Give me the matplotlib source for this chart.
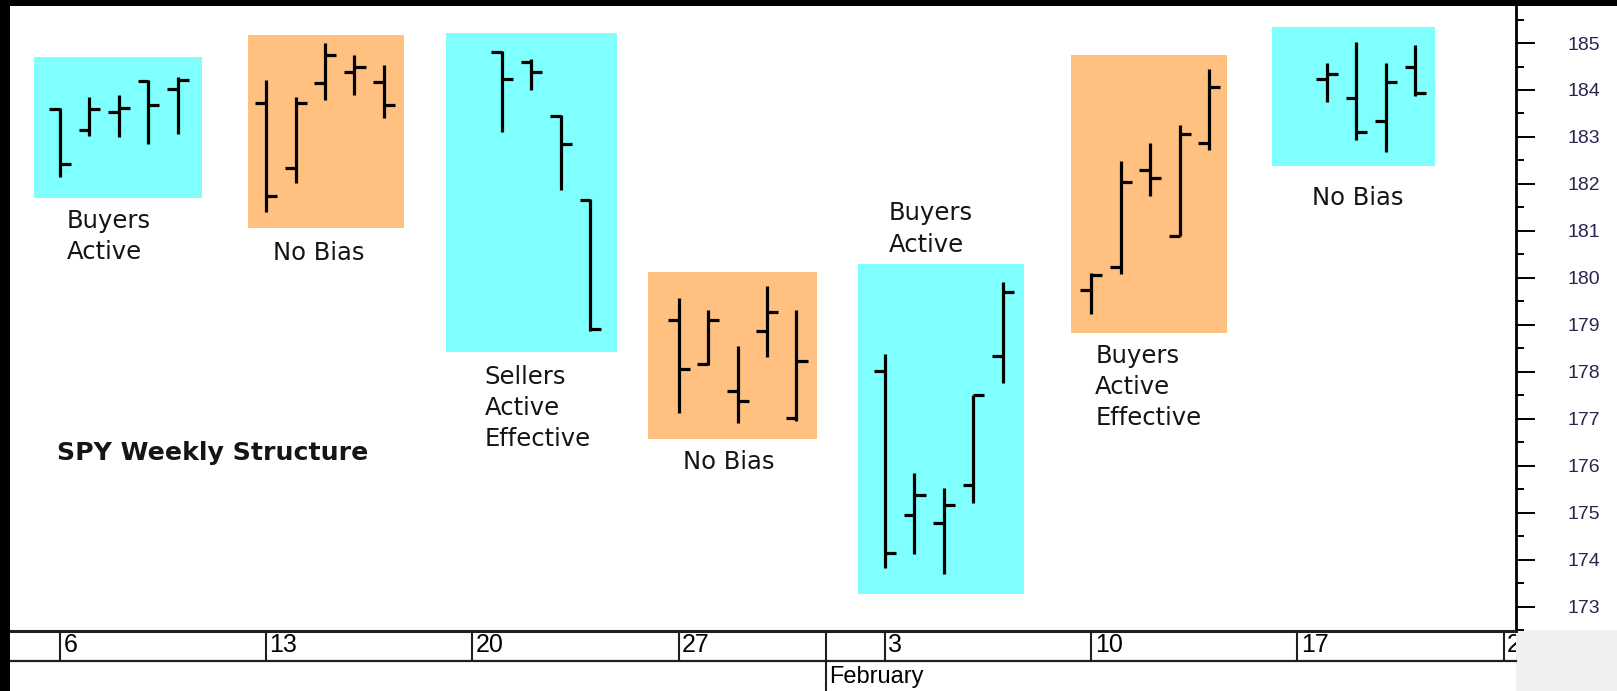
import matplotlib
matplotlib.use("Agg")
import matplotlib.pyplot as plt
from matplotlib.patches import Rectangle
import numpy as np
import pandas as pd

# ---------------- data ----------------
dates = ["2014-01-06", "2014-01-07", "2014-01-08", "2014-01-09", "2014-01-10",
         "2014-01-13", "2014-01-14", "2014-01-15", "2014-01-16", "2014-01-17",
         "2014-01-21", "2014-01-22", "2014-01-23", "2014-01-24",
         "2014-01-27", "2014-01-28", "2014-01-29", "2014-01-30", "2014-01-31",
         "2014-02-03", "2014-02-04", "2014-02-05", "2014-02-06", "2014-02-07",
         "2014-02-10", "2014-02-11", "2014-02-12", "2014-02-13", "2014-02-14",
         "2014-02-18", "2014-02-19", "2014-02-20", "2014-02-21"]
opens = [183.59, 183.14, 183.53, 184.20, 184.03,
         183.73, 182.33, 184.15, 184.38, 184.16,
         184.81, 184.60, 183.44, 181.66,
         179.11, 178.17, 177.58, 178.87, 177.02,
         178.01, 174.95, 174.78, 175.59, 178.34,
         179.75, 180.23, 182.29, 180.90, 182.88,
         184.24, 183.82, 183.35, 184.50]
highs = [183.62, 183.85, 183.89, 184.22, 184.27,
         184.22, 183.85, 185.00, 184.75, 184.53,
         184.82, 184.65, 183.46, 181.68,
         179.57, 179.31, 178.55, 179.83, 179.31,
         178.38, 175.84, 175.53, 177.51, 179.91,
         180.11, 182.49, 182.87, 183.25, 184.45,
         184.58, 185.03, 184.58, 184.95]
lows = [182.14, 183.02, 182.99, 182.84, 183.06,
        181.41, 182.01, 183.78, 183.90, 183.40,
        183.11, 184.00, 181.87, 178.87,
        177.12, 178.15, 176.91, 178.31, 176.96,
        173.82, 174.12, 173.69, 175.21, 177.76,
        179.24, 180.09, 181.75, 180.88, 182.72,
        183.74, 182.94, 182.68, 183.87]
closes = [182.42, 183.59, 183.62, 183.69, 184.21,
          181.74, 183.73, 184.75, 184.50, 183.69,
          184.24, 184.38, 182.84, 178.92,
          178.05, 179.11, 177.37, 179.28, 178.22,
          174.15, 175.38, 175.17, 177.50, 179.70,
          180.05, 182.05, 182.12, 183.06, 184.07,
          184.33, 183.11, 184.16, 183.94]

# highlight boxes: (start date, end date, low price, high price, colour)
box_start = ["2014-01-05", "2014-01-12", "2014-01-19", "2014-01-26", "2014-02-02", "2014-02-09", "2014-02-16"]
box_end = ["2014-01-10", "2014-01-17", "2014-01-24", "2014-01-31", "2014-02-07", "2014-02-14", "2014-02-21"]
box_start_off = [0.12, 0.39, 0.11, -0.03, 0.10, 0.31, 0.15]
box_end_off = [0.84, 0.69, 0.90, 0.69, 0.73, 0.60, 0.67]
box_low = [181.69, 181.06, 178.43, 176.56, 173.26, 178.82, 182.38]
box_high = [184.70, 185.18, 185.21, 180.12, 180.30, 184.74, 185.35]
box_colors = ["#80FFFF", "#FFC080", "#80FFFF", "#FFC080", "#80FFFF", "#FFC080", "#80FFFF"]

labels = ["Buyers\nActive", "No Bias", "Sellers\nActive\nEffective", "No Bias",
          "Buyers\nActive", "Buyers\nActive\nEffective", "No Bias"]
label_day = [6.24, 13.24, 20.42, 27.14, 34.14, 41.14, 48.49]
label_price = [180.87, 180.52, 177.22, 176.07, 181.04, 177.68, 181.70]

title_text = "SPY Weekly Structure"
week_starts = ["2014-01-06", "2014-01-13", "2014-01-20", "2014-01-27",
               "2014-02-03", "2014-02-10", "2014-02-17", "2014-02-24"]
month_start = "2014-02-01"
month_label = "February"
price_ticks = list(range(173, 186))

# ---------------- helpers ----------------
base = pd.Timestamp("2013-12-31")
def dnum(s):
    return (pd.Timestamp(s) - base).days

x = np.array([dnum(d) for d in dates], dtype=float)

W, H = 1617, 691
fig = plt.figure(figsize=(W / 100, H / 100), dpi=100)
fig.patch.set_facecolor("white")

L_PX, R_PX, T_PX, B_PX = 9.5, 1516, 5, 630
ax = fig.add_axes([L_PX / W, (H - B_PX) / H, (R_PX - L_PX) / W, (B_PX - T_PX) / H])
XLIM = (4.293, 55.42)
ax.set_xlim(*XLIM)
ax.set_ylim(172.565, 185.81)
ax.set_facecolor("white")

# boxes
for s, e, so, eo, lo, hi, c in zip(box_start, box_end, box_start_off, box_end_off, box_low, box_high, box_colors):
    x0 = dnum(s) + so
    x1 = dnum(e) + eo
    ax.add_patch(Rectangle((x0, lo), x1 - x0, hi - lo, facecolor=c, edgecolor="none", zorder=0))

# OHLC bars
lw = 2.3
ax.vlines(x, lows, highs, color="black", lw=lw, zorder=3, capstyle="butt")
ax.hlines(opens, x - 0.36, x, color="black", lw=lw, zorder=3, capstyle="butt")
ax.hlines(closes, x, x + 0.38, color="black", lw=lw, zorder=3, capstyle="butt")

# annotations
for t, d, p in zip(labels, label_day, label_price):
    ax.text(d, p, t, ha="left", va="center", fontsize=17.5, family="DejaVu Sans",
            linespacing=1.37, color="#151515", zorder=4)
ax.text(5.9, 176.27, title_text, ha="left", va="center", fontsize=18.2,
        family="DejaVu Sans", fontweight="bold", color="#151515", zorder=4)

# right price axis
for sp in ["top", "left", "bottom"]:
    ax.spines[sp].set_visible(False)
ax.spines["right"].set_linewidth(2)
ax.spines["right"].set_color("black")
ax.yaxis.set_ticks_position("right")
ax.set_yticks(price_ticks)
ax.set_yticks([p + 0.5 for p in range(172, 186)], minor=True)
ax.set_yticklabels([str(p) for p in price_ticks], family="Liberation Sans")
ax.tick_params(axis="y", which="major", length=13.5, width=1.4, direction="out",
               pad=23.5, labelsize=14, labelcolor="#26264f", color="black")
ax.tick_params(axis="y", which="minor", length=6, width=1.4, direction="out", color="black")
ax.set_xticks([])

# date strip
ax2 = fig.add_axes([L_PX / W, 0, (R_PX - L_PX) / W, (H - B_PX) / H])
ax2.set_xlim(*XLIM)
ax2.set_ylim(0, H - B_PX)
ax2.axis("off")
ax2.axhline(H - B_PX - 0.5, color="#202020", lw=2.2, clip_on=False)
ax2.axhline(30, color="#202020", lw=1.6, clip_on=False)
for w in week_starts:
    d = dnum(w)
    ax2.vlines(d, 30, H - B_PX, color="#202020", lw=1.5)
    ax2.text(d + 0.12, 45.5, str(pd.Timestamp(w).day), ha="left", va="center",
             fontsize=18, family="Liberation Sans", color="black", clip_on=True)
mdn = dnum(month_start)
ax2.vlines(mdn, 0, H - B_PX, color="#202020", lw=1.5)
ax2.text(mdn + 0.12, 14.5, month_label, ha="left", va="center", fontsize=17,
         family="Liberation Sans", color="black", clip_on=True)

# frame decorations
fig.add_artist(Rectangle((R_PX / W, 0), (W - R_PX) / W, (H - B_PX) / H, transform=fig.transFigure,
                         facecolor="#f0f0f0", edgecolor="none", zorder=-1))
fig.add_artist(Rectangle((0, 0), L_PX / W, 1, transform=fig.transFigure,
                         facecolor="black", edgecolor="none", zorder=10))
fig.add_artist(Rectangle((0, 1 - 6 / H), 1, 6 / H, transform=fig.transFigure,
                         facecolor="black", edgecolor="none", zorder=10))

fig.savefig("out.png", dpi=100, facecolor="white")
